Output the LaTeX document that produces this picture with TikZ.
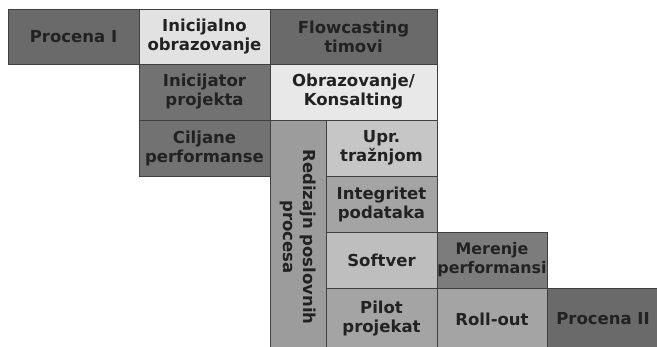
\documentclass[tikz,border=0pt]{standalone}
\usepackage{fontspec}
\setmainfont{DejaVu Sans}
\definecolor{txt}{HTML}{222222}
\definecolor{cDark}{HTML}{6A6A6A}
\definecolor{cDarkB}{HTML}{727272}
\definecolor{cMid}{HTML}{7C7C7C}
\definecolor{cLight}{HTML}{E2E2E2}
\definecolor{cLightB}{HTML}{E8E8E8}
\definecolor{cGray}{HTML}{9C9C9C}
\definecolor{cGrayL}{HTML}{C6C6C6}
\definecolor{cGrayM}{HTML}{A4A4A4}
\definecolor{cSoft}{HTML}{BEBEBE}
\begin{document}
\begin{tikzpicture}[x=1pt,y=-1pt,
  box/.style={draw=black!75, line width=0.5pt, inner sep=0pt, outer sep=0pt,
    anchor=north west, align=center, text=txt,
    font=\fontsize{16.5}{19}\selectfont\bfseries}]
\useasboundingbox (0,0) rectangle (657,347);
\node[box, fill=cDark, minimum width=131pt, minimum height=55pt] (p1) at (8,9) {Procena I};
\node[box, fill=cLight, minimum width=131pt, minimum height=55pt] (ini) at (139,9) {Inicijalno\\obrazovanje};
\node[box, fill=cDark, minimum width=167pt, minimum height=55pt] (flow) at (270,9) {Flowcasting\\timovi};
\node[box, fill=cDarkB, minimum width=131pt, minimum height=56pt] (inic) at (139,64) {Inicijator\\projekta};
\node[box, fill=cLightB, minimum width=167pt, minimum height=56pt] (obr) at (270,64) {Obrazovanje/\\Konsalting};
\node[box, fill=cDarkB, minimum width=131pt, minimum height=56pt] (cilj) at (139,120) {Ciljane\\performanse};
\node[box, fill=cGray, minimum width=56pt, minimum height=230pt] (red) at (270,120) {};
\node[rotate=-90, align=center, text=txt, font=\fontsize{16.5}{20}\selectfont\bfseries] (redt) at ([yshift=-2pt]red.center) {Redizajn poslovnih\\procesa};
\node[box, fill=cGrayL, minimum width=111pt, minimum height=56pt] (upr) at (326,120) {Upr.\\tražnjom};
\node[box, fill=cGrayM, minimum width=111pt, minimum height=56pt] (integ) at (326,176) {Integritet\\podataka};
\node[box, fill=cSoft, minimum width=111pt, minimum height=56pt] (soft) at (326,232) {Softver};
\node[box, fill=cMid, minimum width=110pt, minimum height=56pt, font=\fontsize{15.9}{19}\selectfont\bfseries] (mer) at (437,232) {Merenje\\performansi};
\node[box, fill=cGrayM, minimum width=111pt, minimum height=62pt] (pilot) at (326,288) {Pilot\\projekat};
\node[box, fill=cGrayM, minimum width=110pt, minimum height=62pt] (roll) at (437,288) {Roll-out};
\node[box, fill=cDark, minimum width=112pt, minimum height=62pt] (p2) at (547,288) {Procena II};
\end{tikzpicture}
\end{document}
